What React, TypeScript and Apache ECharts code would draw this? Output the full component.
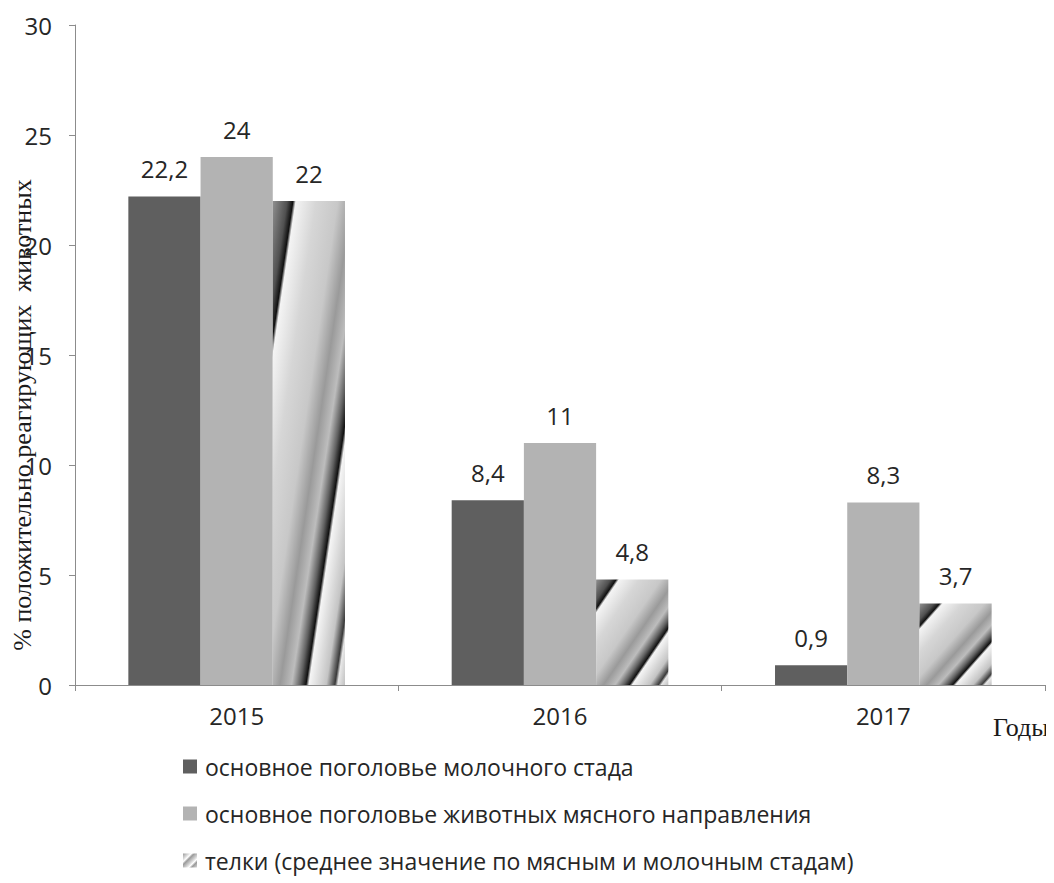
import React, { useEffect, useRef } from "react";
import * as echarts from "echarts";

const years = ["2015", "2016", "2017"];
const dairyHerd = [22.2, 8.4, 0.9];
const beefHerd = [24, 11, 8.3];
const heifers = [22, 4.8, 3.7];
const seriesNames = [
  "основное поголовье молочного стада",
  "основное поголовье животных мясного направления",
  "телки (среднее значение по мясным и молочным стадам)",
];
const yMin = 0;
const yMax = 30;
const yInterval = 5;
const yTitle = "% положительно реагирующих  животных";
const xTitle = "Годы";

const stripeStops = [
  [0, "#909090"],
  [0.1, "#505050"],
  [0.14, "#101010"],
  [0.16, "#f4f4f4"],
  [0.3, "#d6d6d6"],
  [0.45, "#c8c8c8"],
  [0.55, "#9a9a9a"],
  [0.63, "#bdbdbd"],
  [0.69, "#606060"],
  [0.73, "#101010"],
  [0.75, "#f5f5f5"],
  [0.87, "#c4c4c4"],
  [0.93, "#3a3a3a"],
  [0.95, "#e8e8e8"],
  [1, "#c0c0c0"],
];

const stripeFill = {
  type: "linear",
  x: 0,
  y: 0,
  x2: 1,
  y2: 1,
  global: false,
  colorStops: stripeStops.map(([o, c]) => ({ offset: o, color: c })),
};

const legendStripe = {
  type: "linear",
  x: 0,
  y: 0,
  x2: 1,
  y2: 1,
  global: false,
  colorStops: [
    { offset: 0, color: "#9a9a9a" },
    { offset: 0.2, color: "#d8d8d8" },
    { offset: 0.3, color: "#ffffff" },
    { offset: 0.4, color: "#9a9a9a" },
    { offset: 0.6, color: "#d8d8d8" },
    { offset: 0.7, color: "#ffffff" },
    { offset: 0.8, color: "#9a9a9a" },
    { offset: 1, color: "#d8d8d8" },
  ],
};

const fmt = (p: any) => String(p.value).replace(".", ",");
const SANS = "Open Sans";

export default function App() {
  const ref = useRef<HTMLDivElement>(null);
  useEffect(() => {
    if (!ref.current) return;
    const chart = echarts.init(ref.current, null, { renderer: "svg" });
    const labelStyle = {
      show: true,
      position: "top",
      distance: 16,
      formatter: fmt,
      fontFamily: SANS,
      fontSize: 24,
      color: "#262626",
    };
    const option: any = {
      animation: false,
      backgroundColor: "#ffffff",
      grid: { left: 75, right: 9, top: 25, bottom: 198, containLabel: false },
      xAxis: {
        type: "category",
        data: years,
        axisLine: { lineStyle: { color: "#8c8c8c", width: 1 } },
        axisTick: { show: true, length: 6, lineStyle: { color: "#8c8c8c" } },
        axisLabel: {
          fontFamily: SANS,
          fontSize: 24,
          color: "#262626",
          margin: 18,
        },
      },
      yAxis: {
        type: "value",
        min: yMin,
        max: yMax,
        interval: yInterval,
        splitLine: { show: false },
        axisLine: { show: true, lineStyle: { color: "#8c8c8c", width: 1 } },
        axisTick: { show: true, length: 6, lineStyle: { color: "#8c8c8c" } },
        axisLabel: {
          fontFamily: SANS,
          fontSize: 24,
          color: "#262626",
          margin: 23,
        },
      },
      legend: {
        orient: "vertical",
        left: 183,
        top: 755,
        padding: 0,
        itemWidth: 14,
        itemHeight: 14,
        itemGap: 24,
        icon: "rect",
        textStyle: {
          fontFamily: SANS,
          fontSize: 23,
          lineHeight: 23,
          color: "#262626",
          padding: [0, 0, 0, 3],
        },
        data: [
          { name: seriesNames[0] },
          { name: seriesNames[1] },
          { name: seriesNames[2], itemStyle: { color: legendStripe } },
        ],
      },
      graphic: [
        {
          type: "text",
          x: 22,
          y: 415,
          rotation: Math.PI / 2,
          style: {
            text: yTitle,
            fontFamily: "Liberation Serif",
            fontSize: 26,
            fill: "#1a1a1a",
            textAlign: "center",
            textVerticalAlign: "middle",
          },
        },
        {
          type: "text",
          x: 993,
          y: 727,
          style: {
            text: xTitle,
            fontFamily: "Liberation Serif",
            fontSize: 26,
            fill: "#1a1a1a",
            textAlign: "left",
            textVerticalAlign: "middle",
          },
        },
      ],
      series: [
        {
          name: seriesNames[0],
          type: "bar",
          data: dairyHerd,
          barGap: "0%",
          barCategoryGap: "33%",
          itemStyle: { color: "#5f5f5f" },
          label: labelStyle,
        },
        {
          name: seriesNames[1],
          type: "bar",
          data: beefHerd,
          itemStyle: { color: "#b3b3b3" },
          label: labelStyle,
        },
        {
          name: seriesNames[2],
          type: "bar",
          data: heifers,
          itemStyle: { color: stripeFill },
          label: labelStyle,
        },
      ],
    };
    chart.setOption(option);
    return () => chart.dispose();
  }, []);
  return <div ref={ref} style={{ width: 1054, height: 883, marginLeft: -8, marginTop: -8 }} />;
}
